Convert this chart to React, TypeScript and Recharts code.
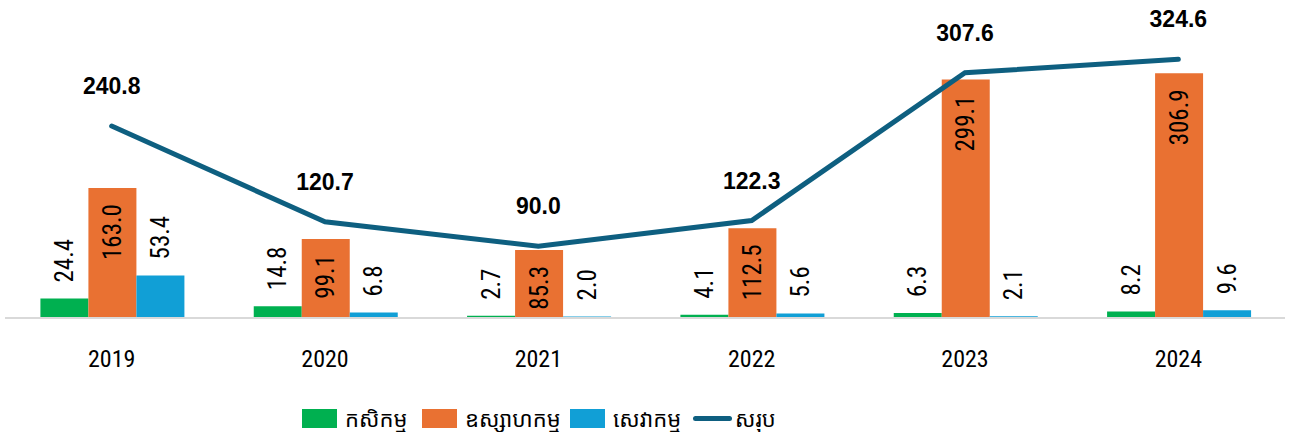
import React from 'react';
import { ComposedChart, Bar, Line, XAxis, YAxis, LabelList, Legend } from 'recharts';

const years = ['2019', '2020', '2021', '2022', '2023', '2024'];
const agriculture = [24.4, 14.8, 2.7, 4.1, 6.3, 8.2];
const industry = [163.0, 99.1, 85.3, 112.5, 299.1, 306.9];
const services = [53.4, 6.8, 2.0, 5.6, 2.1, 9.6];
const total = [240.8, 120.7, 90.0, 122.3, 307.6, 324.6];

const seriesNames = ['កសិកម្ម', 'ឧស្សាហកម្ម', 'សេវាកម្ម', 'សរុប'];
const colors = ['#00B050', '#E97132', '#119FD6', '#0E5F80'];

const data = years.map((y, i) => ({
  year: y,
  agri: agriculture[i],
  ind: industry[i],
  serv: services[i],
  total: total[i],
}));

const NARROW = "'Liberation Sans Narrow', 'Arial Narrow', 'Roboto Condensed', 'DejaVu Sans Condensed', sans-serif";
const SANS = "'Liberation Sans', Arial, sans-serif";
const KHMER = "'Noto Sans Khmer', 'Khmer OS', 'Khmer OS System', 'Noto Sans', sans-serif";

const outsideLabel = (props: any) => {
  const { x, y, width, value } = props;
  const cx = Number(x) + Number(width) / 2;
  const ty = Number(y) - 16;
  return (
    <text
      x={cx}
      y={ty}
      transform={`rotate(-90 ${cx} ${ty})`}
      textAnchor="start"
      dominantBaseline="central"
      fontFamily={NARROW}
      fontSize={25}
      fill="#000"
    >
      {Number(value).toFixed(1)}
    </text>
  );
};

const insideLabel = (props: any) => {
  const { x, y, width, value } = props;
  const cx = Number(x) + Number(width) / 2;
  const ty = Number(y) + 16;
  return (
    <text
      x={cx}
      y={ty}
      transform={`rotate(-90 ${cx} ${ty})`}
      textAnchor="end"
      dominantBaseline="central"
      fontFamily={NARROW}
      fontSize={25}
      fill="#000"
    >
      {Number(value).toFixed(1)}
    </text>
  );
};

const lineLabel = (props: any) => {
  const { x, y, value } = props;
  return (
    <text
      x={Number(x)}
      y={Number(y) - 40}
      textAnchor="middle"
      dominantBaseline="central"
      fontFamily={SANS}
      fontWeight="bold"
      fontSize={23}
      fill="#000"
    >
      {Number(value).toFixed(1)}
    </text>
  );
};

const YearTick = (props: any) => {
  const { x, y, payload } = props;
  return (
    <text
      x={x}
      y={y}
      dy={33}
      textAnchor="middle"
      dominantBaseline="central"
      fontFamily={NARROW}
      fontSize={24}
      fill="#000"
    >
      {payload.value}
    </text>
  );
};

const legendLeft = [297, 417, 565, 688];

const LegendContent = () => {
  return (
    <div
      style={{
        position: 'relative',
        height: 28,
        width: 1280,
        fontFamily: KHMER,
        fontSize: 22,
        color: '#000',
      }}
    >
      {seriesNames.map((name, i) => (
        <div
          key={name}
          style={{
            position: 'absolute',
            left: legendLeft[i],
            top: 0,
            height: 28,
            display: 'flex',
            alignItems: 'center',
            whiteSpace: 'nowrap',
          }}
        >
          {i < 3 ? (
            <div style={{ width: 35, height: 19, background: colors[i], marginRight: 8 }} />
          ) : (
            <div style={{ width: 39, height: 5, borderRadius: 3, background: colors[i], marginRight: 3 }} />
          )}
          <span style={{ lineHeight: '28px' }}>{name}</span>
        </div>
      ))}
    </div>
  );
};

export default function App() {
  return (
    <div style={{ position: 'absolute', left: 0, top: 0, background: '#fff' }}>
      <ComposedChart
        width={1292}
        height={432}
        data={data}
        margin={{ top: 39, right: 7, bottom: 0, left: 5 }}
        barCategoryGap="16.6%"
        barGap={0}
      >
        <XAxis
          dataKey="year"
          axisLine={{ stroke: '#D9D9D9', strokeWidth: 2 }}
          tickLine={false}
          height={86}
          tick={<YearTick />}
          interval={0}
        />
        <YAxis hide domain={[0, 350]} />
        <Legend verticalAlign="bottom" content={<LegendContent />} />
        <Bar dataKey="agri" name={seriesNames[0]} fill={colors[0]} isAnimationActive={false}>
          <LabelList dataKey="agri" content={outsideLabel} />
        </Bar>
        <Bar dataKey="ind" name={seriesNames[1]} fill={colors[1]} isAnimationActive={false}>
          <LabelList dataKey="ind" content={insideLabel} />
        </Bar>
        <Bar dataKey="serv" name={seriesNames[2]} fill={colors[2]} isAnimationActive={false}>
          <LabelList dataKey="serv" content={outsideLabel} />
        </Bar>
        <Line
          dataKey="total"
          name={seriesNames[3]}
          stroke={colors[3]}
          strokeWidth={5}
          strokeLinecap="round"
          dot={false}
          activeDot={false}
          isAnimationActive={false}
        >
          <LabelList dataKey="total" content={lineLabel} />
        </Line>
      </ComposedChart>
    </div>
  );
}
